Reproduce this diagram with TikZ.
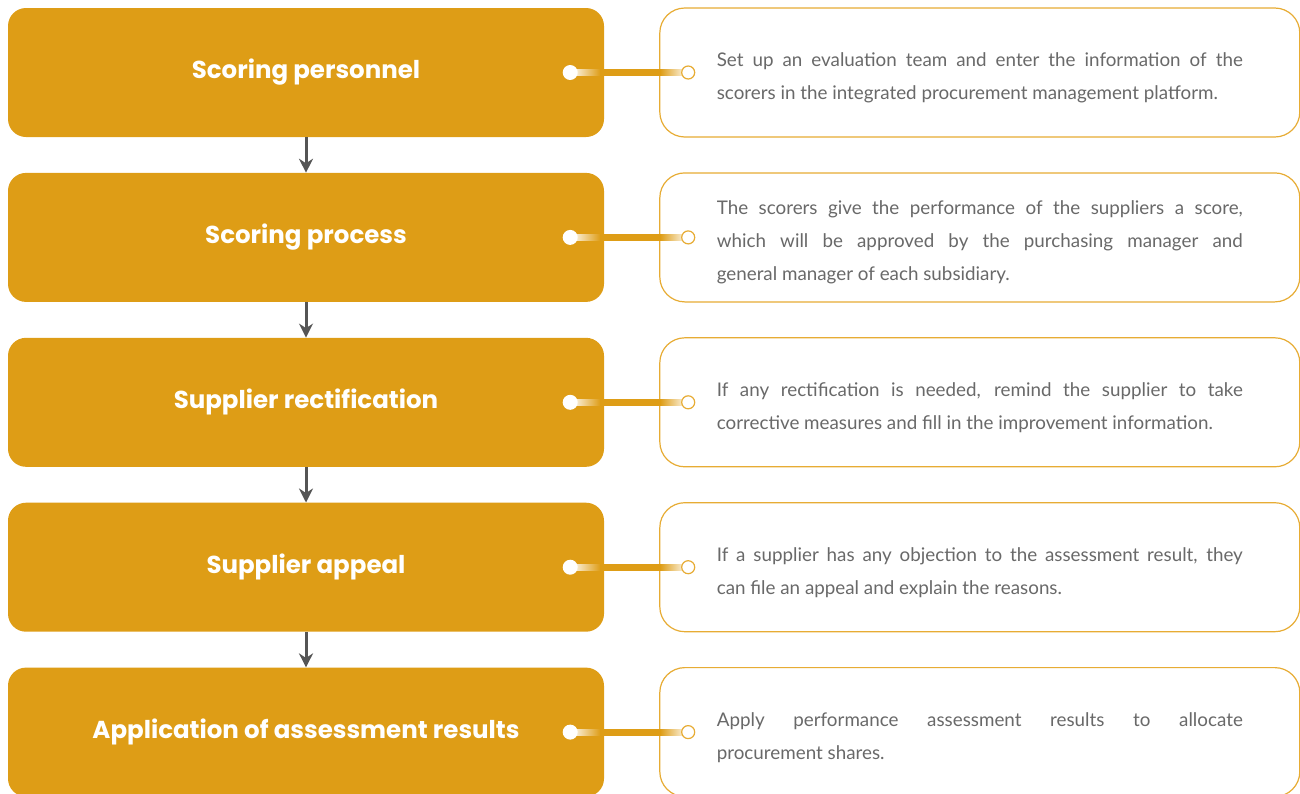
\documentclass[tikz,border=0pt]{standalone}
\usepackage{fontspec}
\setmainfont{Lato}
\newfontfamily\headfont{Poppins}
\usetikzlibrary{arrows.meta,positioning,calc}
\definecolor{gold}{RGB}{222,157,22}
\definecolor{goldline}{RGB}{231,172,52}
\definecolor{goldbright}{RGB}{248,190,6}
\definecolor{txtgray}{RGB}{105,105,105}
\definecolor{arrowgray}{RGB}{85,85,85}

\begin{document}
\begin{tikzpicture}[x=1pt, y=1pt, >=Stealth,
    stage/.style={fill=gold, rounded corners=18pt, minimum width=596pt, minimum height=129pt,
        text=white, font=\headfont\bfseries\fontsize{24.5}{29}\selectfont},
    note/.style={draw=goldline, line width=1.2pt, fill=white, rounded corners=25pt,
        minimum height=129pt, text width=526pt, inner xsep=57pt, align=justify,
        text=txtgray, font=\fontsize{18.8}{33}\selectfont,
        execute at begin node={\rule{0pt}{24pt}}},
    flow/.style={arrowgray, line width=3pt, -{Stealth[length=14pt,width=14pt]}},
    knob/.style={circle, fill=white, inner sep=0pt, minimum size=15pt},
    ring/.style={circle, draw=goldline, line width=1.2pt, fill=white, inner sep=0pt, minimum size=13pt}]
    \useasboundingbox (0,0) rectangle (1300,-793);

    % left column
    \node[stage] (personnel) at (306,-72.5) {Scoring personnel};
    \node[stage, below=35.5pt of personnel] (process) {Scoring process};
    \node[stage, below=35.5pt of process] (rectif) {Supplier rectification};
    \node[stage, below=35.5pt of rectif] (appeal) {Supplier appeal};
    \node[stage, below=35.5pt of appeal] (apply) {Application of assessment results};

    \draw[flow] (personnel) -- (process);
    \draw[flow] (process) -- (rectif);
    \draw[flow] (rectif) -- (appeal);
    \draw[flow] (appeal) -- (apply);

    % right column
    \node[note, right=55pt of personnel] (personnelTxt) {Set up an evaluation team and enter the information of the \linebreak scorers in the integrated procurement management platform.};
    \node[note, right=55pt of process] (processTxt) {The scorers give the performance of the suppliers a score, \linebreak which will be approved by the purchasing manager and \linebreak general manager of each subsidiary.};
    \node[note, right=55pt of rectif] (rectifTxt) {If any rectification is needed, remind the supplier to take \linebreak corrective measures and fill in the improvement information.};
    \node[note, right=55pt of appeal] (appealTxt) {If a supplier has any objection to the assessment result, they \linebreak can file an appeal and explain the reasons.};
    \node[note, right=55pt of apply] (applyTxt) {Apply performance assessment results to allocate \linebreak procurement shares.};

    % links
    \foreach \s in {personnel,process,rectif,appeal,apply}{
        \coordinate (k\s) at ([xshift=-34pt]\s.east);
        \coordinate (r\s) at ([xshift=29pt]\s Txt.west);
        \coordinate (a\s) at ([xshift=30pt]k\s);
        \coordinate (b\s) at ([xshift=-28pt]r\s);
        \shade[left color=white, right color=gold] ($(k\s)+(0,-3)$) rectangle ($(a\s)+(0,3)$);
        \shade[left color=gold, middle color=goldbright, right color=gold] ($(a\s)+(0,-3)$) rectangle ($(b\s)+(0,3)$);
        \shade[left color=gold, right color=white] ($(b\s)+(0,-3)$) rectangle ($(r\s)+(0,3)$);
        \node[knob] at (k\s) {};
        \node[ring] at (r\s) {};
    }
\end{tikzpicture}
\end{document}
